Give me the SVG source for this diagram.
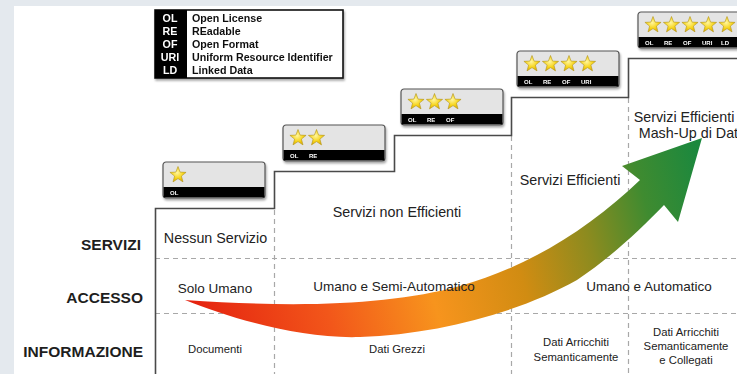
<svg xmlns="http://www.w3.org/2000/svg" width="737" height="374" viewBox="0 0 737 374">
<defs>
<style>
.stair{fill:none;stroke:#4a4a4a;stroke-width:1.6}
.dash{fill:none;stroke:#a8a8a8;stroke-width:1.2;stroke-dasharray:5 4}
.row{font-family:"Liberation Sans",Arial,sans-serif;font-weight:bold;font-size:15.5px;fill:#1e1e1e;text-anchor:end}
.c1{font-family:"Liberation Sans",Arial,sans-serif;font-size:14.3px;fill:#222;text-anchor:middle}
.c2{font-family:"Liberation Sans",Arial,sans-serif;font-size:13.5px;fill:#222;text-anchor:middle}
.c3{font-family:"Liberation Sans",Arial,sans-serif;font-size:11.3px;fill:#222;text-anchor:middle}
.bx{fill:#e4e4e4;stroke:#555;stroke-width:1.2}
.bar{fill:#000}
.lbl{font-family:"Liberation Sans",Arial,sans-serif;font-weight:bold;font-size:6px;fill:#fff}
.lg{font-family:"Liberation Sans",Arial,sans-serif;font-weight:bold;font-size:10.7px;fill:#111}
.lgc{font-family:"Liberation Sans",Arial,sans-serif;font-weight:bold;font-size:10.7px;fill:#fff;text-anchor:middle}
</style>
<radialGradient id="sg" cx="0.45" cy="0.4" r="0.6">
<stop offset="0" stop-color="#fff6a0"/>
<stop offset="0.6" stop-color="#f7d51c"/>
<stop offset="1" stop-color="#e0b000"/>
</radialGradient>
<path id="star" d="M0,-8.5 L2.12,-2.91 L8.08,-2.63 L3.42,1.11 L5,6.88 L0,3.6 L-5,6.88 L-3.42,1.11 L-8.08,-2.63 L-2.12,-2.91Z" fill="url(#sg)" stroke="#b0941e" stroke-width="0.6"/>
<linearGradient id="ag" gradientUnits="userSpaceOnUse" x1="185" y1="300" x2="700" y2="160">
<stop offset="0" stop-color="#e4200f"/>
<stop offset="0.25" stop-color="#f2561a"/>
<stop offset="0.45" stop-color="#f7941d"/>
<stop offset="0.62" stop-color="#d18c12"/>
<stop offset="0.76" stop-color="#8c8b1f"/>
<stop offset="0.88" stop-color="#3f8b30"/>
<stop offset="1" stop-color="#1b883e"/>
</linearGradient>
<filter id="sh" x="-10%" y="-10%" width="130%" height="140%">
<feDropShadow dx="1" dy="2" stdDeviation="1.2" flood-color="#000" flood-opacity="0.35"/>
</filter>
</defs>

<rect x="0" y="0" width="737" height="374" fill="#e4e9ee"/>
<rect x="14" y="6" width="723" height="368" fill="#ffffff"/>

<g id="grid">
<line class="dash" x1="155" y1="258.5" x2="737" y2="258.5"/>
<line class="dash" x1="155" y1="313.5" x2="737" y2="313.5"/>
<line class="dash" x1="274.5" y1="210" x2="274.5" y2="374"/>
<line class="dash" x1="511.5" y1="136" x2="511.5" y2="374"/>
<line class="dash" x1="628.5" y1="98" x2="628.5" y2="374"/>
</g>

<g id="staircase">
<path class="stair" d="M155.5,374 V208.5 H274.5 V171.5 H394.5 V135.5 H511.5 V97.5 H628.5 V58.5 H737"/>
</g>

<g id="connectors">
<path id="arrow" fill="url(#ag)" d="M185,300 C300,308 390,305 460,286 C530,266 590,228 640,180 L622,166 L702,138 L678,222 L664,205 C640,230 610,258 577,280 C520,312 440,334 360,337 C300,339 230,318 185,300 Z"/>
</g>

<g id="row-labels">
<text class="row" x="141" y="250">SERVIZI</text>
<text class="row" x="143" y="303">ACCESSO</text>
<text class="row" x="143" y="357">INFORMAZIONE</text>
</g>

<g id="cells">
<text class="c1" x="215.5" y="243">Nessun Servizio</text>
<text class="c1" x="397" y="217">Servizi non Efficienti</text>
<text class="c1" x="570" y="185">Servizi Efficienti</text>
<text class="c1" x="684" y="122">Servizi Efficienti</text>
<text class="c1" x="690" y="138">Mash-Up di Dati</text>
<text class="c2" x="215" y="293">Solo Umano</text>
<text class="c2" x="394" y="291">Umano e Semi-Automatico</text>
<text class="c2" x="649" y="291">Umano e Automatico</text>
<text class="c3" x="215" y="353">Documenti</text>
<text class="c3" x="397" y="353">Dati Grezzi</text>
<text class="c3" x="576" y="346">Dati Arricchiti</text>
<text class="c3" x="576" y="361">Semanticamente</text>
<text class="c3" x="686" y="336">Dati Arricchiti</text>
<text class="c3" x="686" y="350">Semanticamente</text>
<text class="c3" x="686" y="364">e Collegati</text>
</g>

<g id="badge1" transform="translate(163,162)" filter="url(#sh)">
<rect class="bx" x="0" y="0" width="102" height="36" rx="3"/>
<rect class="bar" x="0.6" y="25" width="100.8" height="10.4"/>
<use href="#star" x="15" y="13"/>
<text class="lbl" x="7" y="33">OL</text>
</g>

<g id="badge2" transform="translate(283,125)" filter="url(#sh)">
<rect class="bx" x="0" y="0" width="102" height="36" rx="3"/>
<rect class="bar" x="0.6" y="25" width="100.8" height="10.4"/>
<use href="#star" x="15" y="13"/>
<use href="#star" x="33.5" y="13"/>
<text class="lbl" x="7" y="33">OL</text>
<text class="lbl" x="26" y="33">RE</text>
</g>

<g id="badge3" transform="translate(401,89)" filter="url(#sh)">
<rect class="bx" x="0" y="0" width="102" height="36" rx="3"/>
<rect class="bar" x="0.6" y="25" width="100.8" height="10.4"/>
<use href="#star" x="15" y="13"/>
<use href="#star" x="33.5" y="13"/>
<use href="#star" x="52" y="13"/>
<text class="lbl" x="7" y="33">OL</text>
<text class="lbl" x="26" y="33">RE</text>
<text class="lbl" x="45" y="33">OF</text>
</g>

<g id="badge4" transform="translate(517,51)" filter="url(#sh)">
<rect class="bx" x="0" y="0" width="102" height="36" rx="3"/>
<rect class="bar" x="0.6" y="25" width="100.8" height="10.4"/>
<use href="#star" x="15" y="13"/>
<use href="#star" x="33.5" y="13"/>
<use href="#star" x="52" y="13"/>
<use href="#star" x="70.5" y="13"/>
<text class="lbl" x="7" y="33">OL</text>
<text class="lbl" x="26" y="33">RE</text>
<text class="lbl" x="45" y="33">OF</text>
<text class="lbl" x="64" y="33">URI</text>
</g>

<g id="badge5" transform="translate(638,12)" filter="url(#sh)">
<rect class="bx" x="0" y="0" width="104" height="36" rx="3"/>
<rect class="bar" x="0.6" y="25" width="103" height="10.4"/>
<use href="#star" x="15" y="13"/>
<use href="#star" x="33.5" y="13"/>
<use href="#star" x="52" y="13"/>
<use href="#star" x="70.5" y="13"/>
<use href="#star" x="89" y="13"/>
<text class="lbl" x="7" y="33">OL</text>
<text class="lbl" x="26" y="33">RE</text>
<text class="lbl" x="45" y="33">OF</text>
<text class="lbl" x="64" y="33">URI</text>
<text class="lbl" x="83" y="33">LD</text>
</g>

<g id="legend" filter="url(#sh)">
<rect x="155" y="10" width="188" height="68" fill="#fff" stroke="#111" stroke-width="1.6"/>
<rect x="155" y="10" width="32" height="68" fill="#000"/>
<text class="lgc" x="170" y="22">OL</text>
<text class="lgc" x="170" y="35">RE</text>
<text class="lgc" x="170" y="48">OF</text>
<text class="lgc" x="170" y="61">URI</text>
<text class="lgc" x="170" y="74">LD</text>
<text class="lg" x="192" y="22">Open License</text>
<text class="lg" x="192" y="35">REadable</text>
<text class="lg" x="192" y="48">Open Format</text>
<text class="lg" x="192" y="61">Uniform Resource Identifier</text>
<text class="lg" x="192" y="74">Linked Data</text>
</g>
</svg>
